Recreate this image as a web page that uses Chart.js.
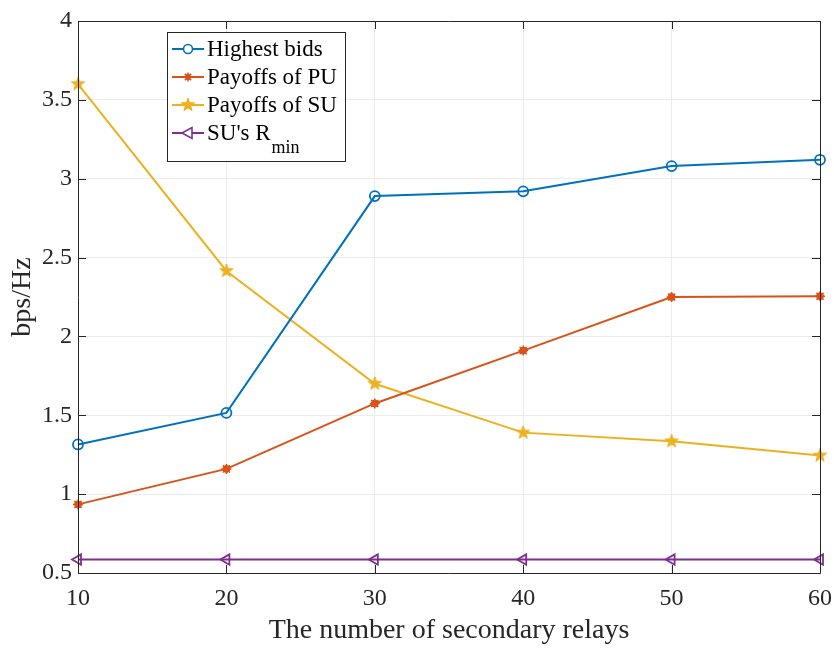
<!DOCTYPE html>
<html><head><meta charset="utf-8">
<script src="https://cdn.jsdelivr.net/npm/chart.js@4"></script>
<style>html,body{margin:0;padding:0;background:#fff}#c{display:block}</style>
</head><body>
<canvas id="c" width="834" height="648"></canvas>
<script>
const relays = [10, 20, 30, 40, 50, 60];
const highestBids = [1.315, 1.515, 2.89, 2.92, 3.08, 3.12];
const payoffPU = [0.935, 1.16, 1.575, 1.91, 2.25, 2.255];
const payoffSU = [3.60, 2.415, 1.70, 1.39, 1.335, 1.245];
const suRmin = [0.585, 0.585, 0.585, 0.585, 0.585, 0.585];
const yTicks = [0.5, 1, 1.5, 2, 2.5, 3, 3.5, 4];
const xTicks = [10, 20, 30, 40, 50, 60];
const seriesNames = ['Highest bids', 'Payoffs of PU', 'Payoffs of SU', "SU's R"];

const C1 = '#0072BD', C2 = '#D95319', C3 = '#EDB120', C4 = '#7E2F8E';
const FONT = '"Liberation Serif", "Times New Roman", serif';

function makeStar(r, color) {
  const s = Math.ceil(r * 2 + 2);
  const cv = document.createElement('canvas');
  cv.width = s; cv.height = s;
  const g = cv.getContext('2d');
  const cx = s / 2, cy = s / 2;
  g.beginPath();
  for (let i = 0; i < 10; i++) {
    const rr = i % 2 === 0 ? r : r * 0.4;
    const a = -Math.PI / 2 + i * Math.PI / 5;
    const x = cx + rr * Math.cos(a), y = cy + rr * Math.sin(a);
    i === 0 ? g.moveTo(x, y) : g.lineTo(x, y);
  }
  g.closePath();
  g.fillStyle = color; g.fill();
  g.strokeStyle = color; g.lineWidth = 1; g.stroke();
  return cv;
}
const starImg = makeStar(7, C3);

const boxPlugin = {
  id: 'boxPlugin',
  afterDatasetsDraw(chart) {
    const ctx = chart.ctx, a = chart.chartArea;
    const xs = chart.scales.x, ys = chart.scales.y;
    ctx.save();
    ctx.strokeStyle = '#262626';
    ctx.lineWidth = 1;
    ctx.beginPath();
    ctx.rect(Math.round(a.left) + 0.5, Math.round(a.top) + 0.5, Math.round(a.right - a.left), Math.round(a.bottom - a.top));
    ctx.stroke();
    const tl = 8;
    ctx.beginPath();
    xTicks.forEach(v => {
      const x = Math.round(xs.getPixelForValue(v)) + 0.5;
      ctx.moveTo(x, a.bottom); ctx.lineTo(x, a.bottom - tl);
      ctx.moveTo(x, a.top); ctx.lineTo(x, a.top + tl);
    });
    yTicks.forEach(v => {
      const y = Math.round(ys.getPixelForValue(v)) + 0.5;
      ctx.moveTo(a.left, y); ctx.lineTo(a.left + tl, y);
      ctx.moveTo(a.right, y); ctx.lineTo(a.right - tl, y);
    });
    ctx.stroke();

    // legend
    const lx = 167, ly = 32, lw = 178, lh = 129;
    ctx.fillStyle = '#fff';
    ctx.fillRect(lx, ly, lw, lh);
    ctx.strokeStyle = '#262626';
    ctx.strokeRect(lx + 0.5, ly + 0.5, lw, lh);
    const rows = [49, 77, 105, 133];
    const colors = [C1, C2, C3, C4];
    ctx.font = '23px ' + FONT;
    ctx.textBaseline = 'middle';
    rows.forEach((yy, i) => {
      ctx.strokeStyle = colors[i];
      ctx.lineWidth = 2;
      ctx.beginPath(); ctx.moveTo(172, yy); ctx.lineTo(204, yy); ctx.stroke();
      const mx = 188;
      if (i === 0) {
        ctx.lineWidth = 1.6; ctx.beginPath(); ctx.arc(mx, yy, 4.5, 0, Math.PI * 2);
        ctx.fillStyle = '#fff'; ctx.fill(); ctx.stroke();
      } else if (i === 1) {
        ctx.fillStyle = C2; ctx.beginPath(); ctx.arc(mx, yy, 3, 0, Math.PI * 2); ctx.fill();
        ctx.lineWidth = 1.5; ctx.beginPath();
        for (let k = 0; k < 4; k++) { const an = k * Math.PI / 4; ctx.moveTo(mx + 4.5 * Math.cos(an), yy + 4.5 * Math.sin(an)); ctx.lineTo(mx - 4.5 * Math.cos(an), yy - 4.5 * Math.sin(an)); }
        ctx.stroke();
      } else if (i === 2) {
        ctx.drawImage(starImg, mx - starImg.width / 2, yy - starImg.height / 2);
      } else {
        ctx.lineWidth = 1.6; ctx.beginPath();
        ctx.moveTo(mx - 6, yy); ctx.lineTo(mx + 4, yy - 5.5); ctx.lineTo(mx + 4, yy + 5.5); ctx.closePath();
        ctx.fillStyle = '#fff'; ctx.fill(); ctx.stroke();
      }
      ctx.fillStyle = '#000';
      ctx.textAlign = 'left';
      ctx.fillText(seriesNames[i], 207, yy + 1);
      if (i === 3) {
        const w = ctx.measureText(seriesNames[i]).width;
        ctx.font = '18px ' + FONT;
        ctx.fillText('min', 207 + w + 1, yy + 15);
        ctx.font = '23px ' + FONT;
      }
    });
    ctx.restore();
  }
};

new Chart(document.getElementById('c'), {
  type: 'line',
  data: {
    datasets: [
      { label: seriesNames[0], data: relays.map((x, i) => ({ x, y: highestBids[i] })), borderColor: C1, backgroundColor: '#fff', borderWidth: 2, pointStyle: 'circle', pointRadius: 5, pointBorderWidth: 1.8, pointBackgroundColor: 'rgba(255,255,255,0)', clip: false },
      { label: seriesNames[1], data: relays.map((x, i) => ({ x, y: payoffPU[i] })), borderColor: C2, backgroundColor: C2, borderWidth: 2, pointStyle: 'circle', pointRadius: 3.5, pointBorderWidth: 1, pointBackgroundColor: C2, clip: false },
      { label: seriesNames[1] + 'm', data: relays.map((x, i) => ({ x, y: payoffPU[i] })), borderColor: C2, showLine: false, pointStyle: 'star', pointRadius: 5, pointBorderWidth: 1.5, pointBackgroundColor: C2, clip: false },
      { label: seriesNames[2], data: relays.map((x, i) => ({ x, y: payoffSU[i] })), borderColor: C3, backgroundColor: C3, borderWidth: 2, pointStyle: starImg, pointRadius: 7, clip: false },
      { label: seriesNames[3], data: relays.map((x, i) => ({ x, y: suRmin[i] })), borderColor: C4, backgroundColor: '#fff', borderWidth: 2, pointStyle: 'triangle', rotation: -90, pointRadius: 6, pointBorderWidth: 1.8, pointBackgroundColor: 'rgba(255,255,255,0)', clip: false }
    ]
  },
  options: {
    responsive: false,
    animation: false,
    layout: { padding: { top: 21, right: 14, left: 0, bottom: 0 } },
    plugins: { legend: { display: false }, tooltip: { enabled: false } },
    elements: { line: { tension: 0 } },
    scales: {
      x: {
        type: 'linear', min: 10, max: 60,
        afterBuildTicks: s => { s.ticks = xTicks.map(v => ({ value: v })); },
        afterFit: s => { s.height = 75; s.paddingLeft = 0; s.paddingRight = 0; },
        grid: { color: '#ececec', lineWidth: 1, drawTicks: false },
        border: { display: false },
        ticks: { font: { family: FONT, size: 24 }, color: '#262626', padding: 11, maxRotation: 0, callback: v => String(v) },
        title: { display: true, text: 'The number of secondary relays', font: { family: FONT, size: 28 }, color: '#262626', padding: { top: 0, bottom: 1 } }
      },
      y: {
        type: 'linear', min: 0.5, max: 4,
        afterBuildTicks: s => { s.ticks = yTicks.map(v => ({ value: v })); },
        afterFit: s => { s.width = 78; s.paddingTop = 0; s.paddingBottom = 0; },
        grid: { color: '#ececec', lineWidth: 1, drawTicks: false },
        border: { display: false },
        ticks: { font: { family: FONT, size: 24 }, color: '#262626', padding: 6, callback: v => String(v) },
        title: { display: true, text: 'bps/Hz', font: { family: FONT, size: 28 }, color: '#262626', padding: { top: 6, bottom: 0 } }
      }
    }
  },
  plugins: [boxPlugin]
});
</script>
</body></html>
